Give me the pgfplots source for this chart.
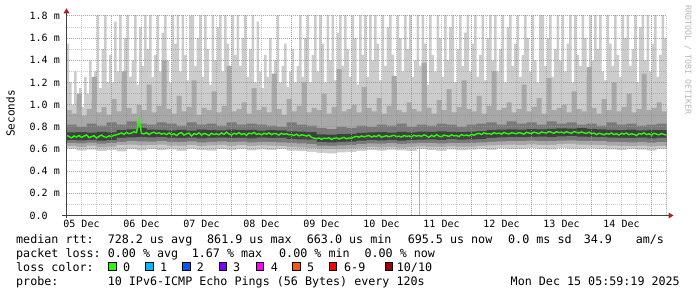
\documentclass[border=0pt]{standalone}
\usepackage{fontspec}
\setmainfont{DejaVu Sans Mono}
\usepackage{pgfplots}
\pgfplotsset{compat=1.18}
\definecolor{smokeA}{HTML}{CCCCCC}
\definecolor{smokeB}{HTML}{A8A8A8}
\definecolor{smokeC}{HTML}{7A7A7A}
\definecolor{smokeD}{HTML}{404040}
\definecolor{medgreen}{HTML}{26FF00}
\definecolor{lossblue}{HTML}{70C8FF}
\definecolor{arrowred}{HTML}{B02020}
\definecolor{mgrid}{HTML}{F07070}
\definecolor{lc0}{HTML}{26FF00}
\definecolor{lc1}{HTML}{00B8FF}
\definecolor{lc2}{HTML}{0059FF}
\definecolor{lc3}{HTML}{7E00FF}
\definecolor{lc4}{HTML}{FF00FF}
\definecolor{lc5}{HTML}{FF5500}
\definecolor{lc6}{HTML}{FF0000}
\definecolor{lc7}{HTML}{A10000}
\begin{document}
\begin{tikzpicture}[x=1pt,y=1pt]
\fill[white] (0,0) rectangle (697,297);
\useasboundingbox (0,0) rectangle (697,297);
\begin{axis}[
  at={(66.5pt,81.5pt)}, anchor=south west, scale only axis,
  width=600pt, height=199.5pt,
  xmin=0, xmax=240, ymin=0, ymax=1.8,
  axis on top,
  axis line style={draw=none}, tick style={draw=none},
  xtick={18,42,66,90,114,138,162,186,210,234}, xticklabels={},
  extra x ticks={6,30,54,78,102,126,150,174,198,222},
  extra x tick labels={05 Dec,06 Dec,07 Dec,08 Dec,09 Dec,10 Dec,11 Dec,12 Dec,13 Dec,14 Dec},
  extra x tick style={grid=none},
  minor xtick={0,6,12,24,30,36,48,54,60,72,78,84,96,102,108,120,126,132,144,150,156,168,174,180,192,198,204,216,222,228,240},
  ytick={0,0.2,0.4,0.6,0.8,1.0,1.2,1.4,1.6,1.8},
  yticklabels={0.0\hphantom{\ m},0.2 m,0.4 m,0.6 m,0.8 m,1.0 m,1.2 m,1.4 m,1.6 m,1.8 m},
  minor ytick={0.1,0.3,0.5,0.7,0.9,1.1,1.3,1.5,1.7},
  grid=both,
  major grid style={draw=mgrid, draw opacity=0.85, line width=1pt, dash pattern=on 1pt off 1pt},
  minor grid style={draw=black!55, draw opacity=0.35, line width=1pt, dash pattern=on 1pt off 1pt},
  ticklabel style={font=\fontsize{10}{12}\selectfont},
  xticklabel style={anchor=base, inner sep=0pt, yshift=-12.2pt},
  yticklabel style={anchor=east, inner sep=0pt, xshift=-6.5pt},
]
% lightest smoke: up to maximum
\addplot[const plot, draw=none, fill=smokeA] coordinates {
(0,1.55)(1,1.20)(2,1.00)(3,1.30)(4,1.05)(5,1.15)(6,0.98)(7,1.25)(8,1.10)(9,1.40)
(10,1.05)(11,1.30)(12,1.85)(13,1.15)(14,1.50)(15,1.90)(16,1.20)(17,1.45)(18,1.20)(19,1.75)
(20,1.30)(21,1.90)(22,1.22)(23,1.60)(24,1.95)(25,1.25)(26,1.40)(27,1.90)(28,1.18)(29,1.70)
(30,1.35)(31,1.90)(32,1.50)(33,1.95)(34,1.25)(35,1.45)(36,1.90)(37,1.30)(38,1.65)(39,1.95)
(40,1.40)(41,1.20)(42,1.85)(43,1.55)(44,1.95)(45,1.30)(46,1.90)(47,1.45)(48,1.22)(49,1.80)
(50,1.90)(51,1.35)(52,1.60)(53,1.95)(54,1.25)(55,1.90)(56,1.50)(57,1.18)(58,1.85)(59,1.40)
(60,1.70)(61,1.95)(62,1.30)(63,1.90)(64,1.55)(65,1.20)(66,1.95)(67,1.45)(68,1.90)(69,1.35)
(70,1.60)(71,1.95)(72,1.25)(73,1.50)(74,1.90)(75,1.20)(76,1.75)(77,1.30)(78,1.15)(79,1.45)
(80,1.25)(81,1.60)(82,1.18)(83,1.40)(84,1.90)(85,1.20)(86,1.35)(87,1.55)(88,1.16)(89,1.30)
(90,1.50)(91,1.20)(92,1.35)(93,1.90)(94,1.25)(95,1.60)(96,1.95)(97,1.20)(98,1.45)(99,1.90)
(100,1.30)(101,1.85)(102,1.55)(103,1.20)(104,1.95)(105,1.40)(106,1.90)(107,1.22)(108,1.65)(109,1.95)
(110,1.35)(111,1.90)(112,1.50)(113,1.25)(114,1.95)(115,1.60)(116,1.18)(117,1.90)(118,1.45)(119,1.85)
(120,1.25)(121,1.95)(122,1.40)(123,1.90)(124,1.55)(125,1.22)(126,1.90)(127,1.35)(128,1.70)(129,1.95)
(130,1.45)(131,1.20)(132,1.90)(133,1.60)(134,1.30)(135,1.95)(136,1.50)(137,1.90)(138,1.25)(139,1.40)
(140,1.85)(141,1.35)(142,1.95)(143,1.55)(144,1.18)(145,1.90)(146,1.45)(147,1.30)(148,1.95)(149,1.60)
(150,1.25)(151,1.90)(152,1.40)(153,1.70)(154,1.95)(155,1.20)(156,1.50)(157,1.90)(158,1.35)(159,1.65)
(160,1.90)(161,1.30)(162,1.55)(163,1.95)(164,1.25)(165,1.45)(166,1.90)(167,1.22)(168,1.60)(169,1.85)
(170,1.40)(171,1.95)(172,1.30)(173,1.50)(174,1.90)(175,1.20)(176,1.70)(177,1.95)(178,1.35)(179,1.55)
(180,1.90)(181,1.25)(182,1.45)(183,1.95)(184,1.60)(185,1.30)(186,1.90)(187,1.40)(188,1.20)(189,1.85)
(190,1.95)(191,1.35)(192,1.60)(193,1.90)(194,1.25)(195,1.50)(196,1.95)(197,1.40)(198,1.90)(199,1.30)
(200,1.55)(201,1.95)(202,1.20)(203,1.90)(204,1.45)(205,1.35)(206,1.95)(207,1.60)(208,1.25)(209,1.90)
(210,1.40)(211,1.85)(212,1.50)(213,1.95)(214,1.30)(215,1.22)(216,1.90)(217,1.55)(218,1.35)(219,1.95)
(220,1.45)(221,1.25)(222,1.90)(223,1.60)(224,1.95)(225,1.35)(226,1.50)(227,1.90)(228,1.20)(229,1.70)
(230,1.95)(231,1.40)(232,1.90)(233,1.30)(234,1.55)(235,1.95)(236,1.25)(237,1.45)(238,1.90)(239,1.60)(240,1.35)
} \closedcycle;
% mid smoke
\addplot[const plot, draw=none, fill=smokeB] coordinates {
(0,0.95)(2,0.92)(4,1.10)(6,0.90)(8,0.96)(10,1.25)(12,0.93)(14,0.98)(16,0.91)(18,1.05)
(20,0.94)(22,1.30)(24,0.97)(26,0.92)(28,1.00)(30,0.95)(32,1.18)(34,0.93)(36,0.99)(38,1.40)
(40,0.96)(42,0.92)(44,1.08)(46,0.94)(48,0.98)(50,1.22)(52,0.91)(54,0.97)(56,0.95)(58,1.12)
(60,0.93)(62,0.99)(64,1.35)(66,0.94)(68,0.96)(70,1.02)(72,0.92)(74,1.15)(76,0.95)(78,0.98)
(80,0.93)(82,1.28)(84,0.96)(86,0.91)(88,1.05)(90,0.94)(92,0.99)(94,1.20)(96,0.93)(98,0.97)
(100,0.95)(102,1.10)(104,0.92)(106,0.98)(108,1.32)(110,0.94)(112,0.96)(114,1.00)(116,0.93)(118,1.16)
(120,0.97)(122,0.94)(124,1.06)(126,0.92)(128,0.99)(130,1.26)(132,0.95)(134,0.93)(136,1.02)(138,0.96)
(140,0.94)(142,1.38)(144,0.97)(146,0.92)(148,1.04)(150,0.95)(152,1.14)(154,0.93)(156,0.98)(158,1.22)
(160,0.96)(162,0.94)(164,1.08)(166,0.92)(168,0.99)(170,1.30)(172,0.95)(174,0.97)(176,1.02)(178,0.93)
(180,0.96)(182,1.18)(184,0.94)(186,0.98)(188,1.06)(190,0.92)(192,1.24)(194,0.95)(196,0.97)(198,1.00)
(200,0.93)(202,1.12)(204,0.96)(206,0.94)(208,1.34)(210,0.97)(212,0.92)(214,1.05)(216,0.95)(218,1.20)
(220,0.94)(222,0.98)(224,1.10)(226,0.93)(228,0.96)(230,1.28)(232,0.95)(234,0.97)(236,1.02)(238,0.94)(240,0.96)
} \closedcycle;
% darker smoke
\addplot[const plot, draw=none, fill=smokeC] coordinates {
(0,0.82)(4,0.80)(8,0.83)(12,0.81)(16,0.84)(20,0.82)(24,0.85)(28,0.83)(32,0.82)(36,0.84)
(40,0.83)(44,0.81)(48,0.84)(52,0.82)(56,0.83)(60,0.81)(64,0.84)(68,0.82)(72,0.83)(76,0.82)
(80,0.81)(84,0.80)(88,0.84)(92,0.82)(96,0.81)(100,0.79)(104,0.78)(108,0.80)(112,0.79)(116,0.81)
(120,0.80)(124,0.82)(128,0.81)(132,0.83)(136,0.80)(140,0.82)(144,0.81)(148,0.83)(152,0.82)(156,0.80)
(160,0.82)(164,0.83)(168,0.84)(172,0.82)(176,0.85)(180,0.83)(184,0.84)(188,0.82)(192,0.85)(196,0.83)
(200,0.84)(204,0.82)(208,0.83)(212,0.81)(216,0.84)(220,0.82)(224,0.83)(228,0.81)(232,0.82)(236,0.83)(240,0.82)
} \closedcycle;
% darkest core (upper)
\addplot[const plot, draw=none, fill=smokeD] coordinates {
(0,0.750)(4,0.752)(8,0.748)(12,0.755)(16,0.750)(20,0.770)(24,0.776)(28,0.790)(32,0.775)(36,0.772)
(40,0.768)(44,0.772)(48,0.766)(52,0.774)(56,0.770)(60,0.768)(64,0.775)(68,0.770)(72,0.772)(76,0.766)
(80,0.770)(84,0.768)(88,0.760)(92,0.756)(96,0.752)(100,0.732)(104,0.730)(108,0.734)(112,0.736)(116,0.745)
(120,0.750)(124,0.752)(128,0.748)(132,0.755)(136,0.750)(140,0.756)(144,0.754)(148,0.758)(152,0.755)(156,0.752)
(160,0.756)(164,0.762)(168,0.770)(172,0.774)(176,0.778)(180,0.775)(184,0.780)(188,0.778)(192,0.782)(196,0.786)
(200,0.784)(204,0.788)(208,0.782)(212,0.778)(216,0.772)(220,0.770)(224,0.774)(228,0.768)(232,0.772)(236,0.770)(240,0.768)
} \closedcycle;
% darker smoke (lower)
\addplot[const plot, draw=none, fill=smokeC] coordinates {
(0,0.680)(4,0.678)(8,0.682)(12,0.676)(16,0.680)(20,0.700)(24,0.705)(28,0.708)(32,0.704)(36,0.706)
(40,0.700)(44,0.698)(48,0.702)(52,0.696)(56,0.700)(60,0.702)(64,0.698)(68,0.700)(72,0.696)(76,0.702)
(80,0.698)(84,0.700)(88,0.690)(92,0.686)(96,0.684)(100,0.662)(104,0.660)(108,0.664)(112,0.666)(116,0.675)
(120,0.680)(124,0.678)(128,0.682)(132,0.676)(136,0.680)(140,0.684)(144,0.686)(148,0.682)(152,0.688)(156,0.684)
(160,0.686)(164,0.690)(168,0.698)(172,0.704)(176,0.708)(180,0.706)(184,0.710)(188,0.712)(192,0.708)(196,0.714)
(200,0.716)(204,0.712)(208,0.710)(212,0.708)(216,0.702)(220,0.700)(224,0.698)(228,0.702)(232,0.696)(236,0.700)(240,0.698)
} \closedcycle;
% mid smoke (lower)
\addplot[const plot, draw=none, fill=smokeB] coordinates {
(0,0.655)(4,0.650)(8,0.658)(12,0.648)(16,0.656)(20,0.665)(24,0.670)(28,0.668)(32,0.666)(36,0.670)
(40,0.664)(44,0.662)(48,0.668)(52,0.660)(56,0.665)(60,0.668)(64,0.662)(68,0.666)(72,0.660)(76,0.664)
(80,0.662)(84,0.660)(88,0.655)(92,0.650)(96,0.645)(100,0.630)(104,0.628)(108,0.632)(112,0.635)(116,0.645)
(120,0.650)(124,0.648)(128,0.652)(132,0.646)(136,0.650)(140,0.655)(144,0.652)(148,0.650)(152,0.656)(156,0.652)
(160,0.655)(164,0.660)(168,0.664)(172,0.668)(176,0.672)(180,0.670)(184,0.675)(188,0.672)(192,0.670)(196,0.676)
(200,0.678)(204,0.674)(208,0.672)(212,0.670)(216,0.665)(220,0.662)(224,0.660)(228,0.664)(232,0.658)(236,0.662)(240,0.660)
} \closedcycle;
% light smoke (lower)
\addplot[const plot, draw=none, fill=smokeA] coordinates {
(0,0.625)(4,0.618)(8,0.630)(12,0.615)(16,0.622)(20,0.635)(24,0.640)(28,0.632)(32,0.636)(36,0.640)
(40,0.630)(44,0.628)(48,0.636)(52,0.625)(56,0.632)(60,0.638)(64,0.628)(68,0.634)(72,0.626)(76,0.632)
(80,0.630)(84,0.626)(88,0.620)(92,0.615)(96,0.610)(100,0.600)(104,0.598)(108,0.602)(112,0.606)(116,0.612)
(120,0.618)(124,0.615)(128,0.620)(132,0.612)(136,0.618)(140,0.624)(144,0.620)(148,0.616)(152,0.624)(156,0.620)
(160,0.622)(164,0.628)(168,0.632)(172,0.636)(176,0.640)(180,0.636)(184,0.642)(188,0.638)(192,0.636)(196,0.644)
(200,0.646)(204,0.640)(208,0.638)(212,0.636)(216,0.630)(220,0.628)(224,0.626)(228,0.630)(232,0.624)(236,0.628)(240,0.626)
} \closedcycle;
% below the minimum
\addplot[const plot, draw=none, fill=white] coordinates {
(0,0.600)(4,0.585)(8,0.595)(12,0.580)(16,0.592)(20,0.578)(24,0.598)(28,0.588)(32,0.602)(36,0.590)
(40,0.596)(44,0.584)(48,0.600)(52,0.590)(56,0.586)(60,0.598)(64,0.592)(68,0.600)(72,0.588)(76,0.596)
(80,0.590)(84,0.598)(88,0.586)(92,0.580)(96,0.575)(100,0.565)(104,0.560)(108,0.570)(112,0.574)(116,0.582)
(120,0.590)(124,0.585)(128,0.595)(132,0.588)(136,0.580)(140,0.598)(144,0.590)(148,0.584)(152,0.596)(156,0.588)
(160,0.594)(164,0.600)(168,0.592)(172,0.605)(176,0.598)(180,0.602)(184,0.608)(188,0.600)(192,0.596)(196,0.610)
(200,0.604)(204,0.600)(208,0.606)(212,0.598)(216,0.596)(220,0.590)(224,0.600)(228,0.594)(232,0.586)(236,0.598)(240,0.595)
} \closedcycle;
% loss marker
\addplot[ycomb, draw=lossblue, line width=1.5pt] coordinates {(141.2,0.633)};
% median
\addplot[color=medgreen, line width=1.4pt] coordinates {
(0,0.725)(1,0.712)(2,0.700)(3,0.718)(4,0.708)(5,0.722)(6,0.705)(7,0.716)(8,0.728)(9,0.702)
(10,0.712)(11,0.720)(12,0.698)(13,0.714)(14,0.726)(15,0.710)(16,0.704)(17,0.719)(18,0.712)(19,0.724)
(20,0.728)(21,0.736)(22,0.745)(23,0.732)(24,0.750)(25,0.738)(26,0.744)(27,0.755)(28,0.748)(29,0.865)
(30,0.742)(31,0.736)(32,0.748)(33,0.730)(34,0.744)(35,0.752)(36,0.738)(37,0.746)(38,0.734)(39,0.742)
(40,0.730)(41,0.745)(42,0.728)(43,0.738)(44,0.722)(45,0.740)(46,0.748)(47,0.726)(48,0.736)(49,0.744)
(50,0.718)(51,0.738)(52,0.732)(53,0.746)(54,0.726)(55,0.740)(56,0.734)(57,0.722)(58,0.742)(59,0.730)
(60,0.738)(61,0.728)(62,0.745)(63,0.732)(64,0.752)(65,0.736)(66,0.726)(67,0.742)(68,0.734)(69,0.748)
(70,0.730)(71,0.740)(72,0.724)(73,0.744)(74,0.736)(75,0.750)(76,0.732)(77,0.738)(78,0.728)(79,0.742)
(80,0.734)(81,0.746)(82,0.730)(83,0.740)(84,0.736)(85,0.726)(86,0.742)(87,0.732)(88,0.738)(89,0.728)
(90,0.730)(91,0.722)(92,0.734)(93,0.718)(94,0.728)(95,0.724)(96,0.716)(97,0.726)(98,0.705)(99,0.698)
(100,0.692)(101,0.700)(102,0.688)(103,0.698)(104,0.694)(105,0.702)(106,0.686)(107,0.696)(108,0.700)(109,0.690)
(110,0.698)(111,0.704)(112,0.692)(113,0.700)(114,0.696)(115,0.708)(116,0.714)(117,0.706)(118,0.718)(119,0.710)
(120,0.716)(121,0.722)(122,0.708)(123,0.718)(124,0.712)(125,0.726)(126,0.706)(127,0.714)(128,0.720)(129,0.710)
(130,0.718)(131,0.724)(132,0.712)(133,0.716)(134,0.708)(135,0.722)(136,0.714)(137,0.718)(138,0.710)(139,0.724)
(140,0.716)(141,0.722)(142,0.714)(143,0.728)(144,0.718)(145,0.706)(146,0.724)(147,0.712)(148,0.730)(149,0.716)
(150,0.710)(151,0.726)(152,0.720)(153,0.714)(154,0.728)(155,0.718)(156,0.722)(157,0.712)(158,0.730)(159,0.720)
(160,0.726)(161,0.718)(162,0.732)(163,0.724)(164,0.736)(165,0.742)(166,0.730)(167,0.746)(168,0.736)(169,0.740)
(170,0.732)(171,0.748)(172,0.738)(173,0.744)(174,0.734)(175,0.750)(176,0.740)(177,0.736)(178,0.746)(179,0.742)
(180,0.738)(181,0.748)(182,0.742)(183,0.734)(184,0.750)(185,0.744)(186,0.740)(187,0.752)(188,0.746)(189,0.738)
(190,0.754)(191,0.748)(192,0.744)(193,0.758)(194,0.750)(195,0.742)(196,0.756)(197,0.748)(198,0.752)(199,0.744)
(200,0.756)(201,0.748)(202,0.742)(203,0.758)(204,0.750)(205,0.744)(206,0.754)(207,0.746)(208,0.740)(209,0.752)
(210,0.738)(211,0.744)(212,0.730)(213,0.742)(214,0.736)(215,0.728)(216,0.740)(217,0.734)(218,0.744)(219,0.730)
(220,0.738)(221,0.726)(222,0.742)(223,0.734)(224,0.744)(225,0.728)(226,0.738)(227,0.732)(228,0.722)(229,0.740)
(230,0.734)(231,0.746)(232,0.730)(233,0.738)(234,0.726)(235,0.742)(236,0.734)(237,0.728)(238,0.740)(239,0.732)(240,0.725)
};
\end{axis}
% axis lines and arrows
\draw[black!75, line width=0.8pt] (62,81.5) -- (668.5,81.5);
\fill[arrowred] (673.5,81.5) -- (668.5,84.5) -- (668.5,78.5) -- cycle;
\draw[black!75, line width=0.8pt] (66.5,78.5) -- (66.5,284);
\fill[arrowred] (66.5,288.7) -- (63.5,283.7) -- (69.5,283.7) -- cycle;
% axis title and watermark
\node[rotate=90, font=\fontsize{11}{13}\selectfont] at (10.5,183.5) {Seconds};
\node[rotate=-90, font=\fontsize{8.3}{10}\selectfont, text=black!28] at (688,237) {RRDTOOL / TOBI OETIKER};
% legend text
\begin{scope}[every node/.style={anchor=base west, inner sep=0pt, font=\fontsize{11.7}{14}\selectfont}]
\node at (16,53.3) {median rtt:};
\node at (107.6,53.3) {728.2 us avg};
\node at (207,53.3) {861.9 us max};
\node at (306.7,53.3) {663.0 us min};
\node at (407.6,53.3) {695.5 us now};
\node at (508,53.3) {0.0 ms sd};
\node at (583.6,53.3) {34.9};
\node at (635.6,53.3) {am/s};
\node at (16,39.3) {packet loss:};
\node at (107.6,39.3) {0.00 \% avg};
\node at (191.6,39.3) {1.67 \% max};
\node at (279,39.3) {0.00 \% min};
\node at (364.4,39.3) {0.00 \% now};
\node at (16,25.3) {loss color:};
\node at (123,25.3) {0};
\node at (160,25.3) {1};
\node at (196.7,25.3) {2};
\node at (233,25.3) {3};
\node at (270.7,25.3) {4};
\node at (307,25.3) {5};
\node at (344,25.3) {6-9};
\node at (396.7,25.3) {10/10};
\node at (16,11.3) {probe:};
\node at (107.6,11.3) {10 IPv6-ICMP Echo Pings (56 Bytes) every 120s};
\node[anchor=base east] at (680,11.3) {Mon Dec 15 05:59:19 2025};
\end{scope}
\foreach \xx/\cc in {108.3/lc0,145.7/lc1,182.7/lc2,219/lc3,256/lc4,292.7/lc5,329/lc6,385/lc7}{
  \filldraw[fill=\cc, draw=black, line width=0.7pt] (\xx,26.9) rectangle ++(7.6,7.6);
}
\end{tikzpicture}
\end{document}
